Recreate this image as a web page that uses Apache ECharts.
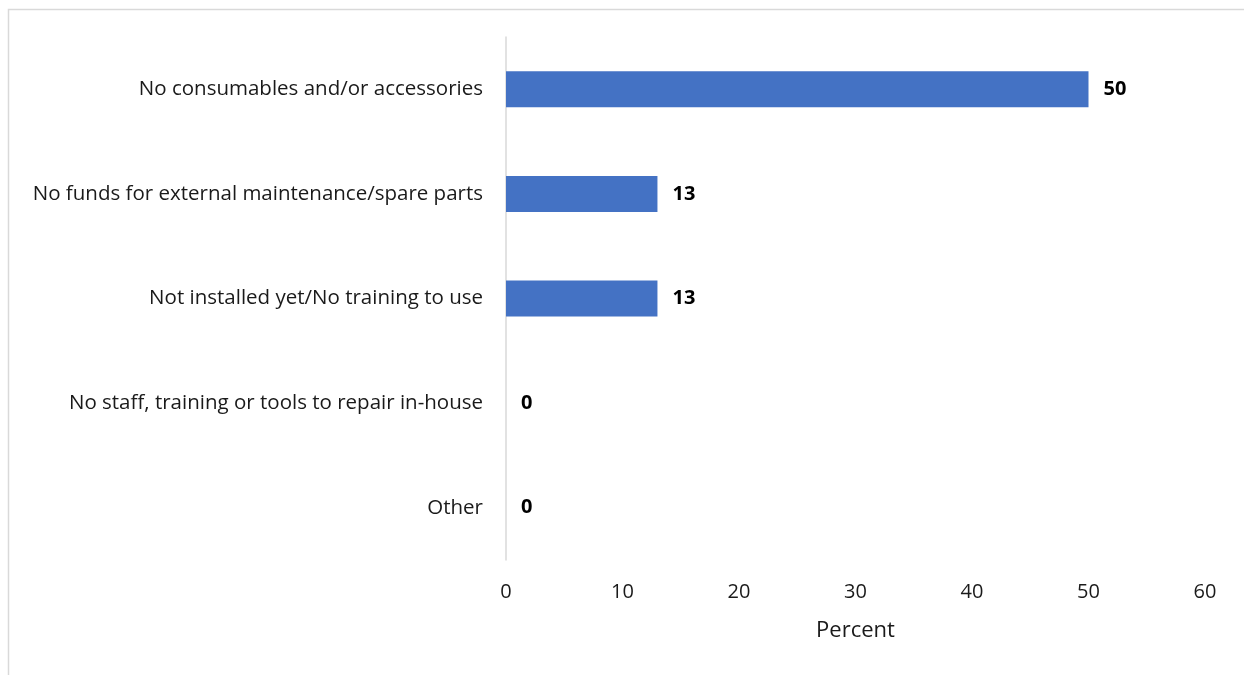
<!DOCTYPE html>
<html><head><meta charset="utf-8">
<script src="https://cdn.jsdelivr.net/npm/echarts@6/dist/echarts.min.js"></script>
<style>html,body{margin:0;padding:0;background:#fff}#c{width:1244px;height:675px}</style>
</head><body><div id="c"></div>
<script>
const categories = [
  "No consumables and/or accessories",
  "No funds for external maintenance/spare parts",
  "Not installed yet/No training to use",
  "No staff, training or tools to repair in-house",
  "Other"
];
const values = [50, 13, 13, 0, 0];
const xTicks = [0, 60, 10];
const xTitle = "Percent";

const FONT = "Open Sans";
const chart = echarts.init(document.getElementById('c'), null, {renderer: 'canvas'});
chart.setOption({
  backgroundColor: '#fff',
  animation: false,
  graphic: [{type: 'rect', left: 6, top: 7, shape: {width: 1300, height: 700}, style: {fill: 'none', stroke: '#d9d9d9', lineWidth: 1.5}}],
  grid: {left: 506, right: 39, top: 37, bottom: 115, containLabel: false},
  xAxis: {
    type: 'value', min: xTicks[0], max: xTicks[1], interval: xTicks[2],
    name: xTitle, nameLocation: 'middle', nameGap: 60,
    nameTextStyle: {fontFamily: FONT, fontSize: 22, color: '#1a1a1a'},
    axisLine: {show: false}, axisTick: {show: false}, splitLine: {show: false},
    axisLabel: {fontFamily: FONT, fontSize: 20, color: '#1a1a1a', margin: 22}
  },
  yAxis: {
    type: 'category', data: categories, inverse: true,
    axisLine: {show: true, lineStyle: {color: '#d9d9d9', width: 1.5}},
    axisTick: {show: false},
    axisLabel: {fontFamily: FONT, fontSize: 20.5, color: '#1a1a1a', margin: 23}
  },
  series: [{
    type: 'bar', data: values, barWidth: 36,
    itemStyle: {color: '#4472c4'},
    label: {show: true, position: 'right', distance: 15, fontFamily: FONT, fontSize: 20, fontWeight: 'bold', color: '#000'}
  }]
});
</script></body></html>
